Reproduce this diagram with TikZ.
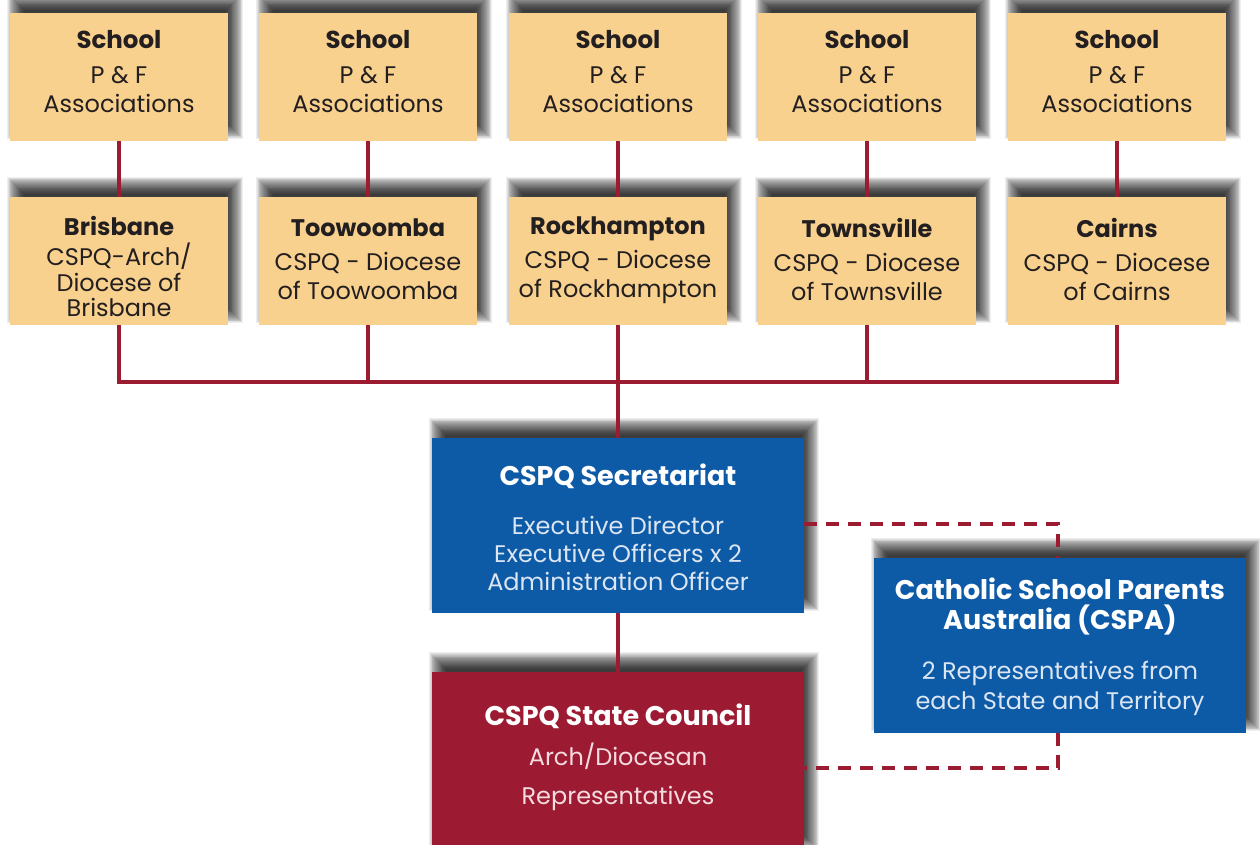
\documentclass[tikz,border=0pt]{standalone}
\usepackage{fontspec}
\setmainfont{Poppins}
\definecolor{tan}{HTML}{F9D18E}
\definecolor{cblue}{HTML}{0D5AA7}
\definecolor{cred}{HTML}{9D1B32}
\definecolor{lnred}{HTML}{9B1B30}
\definecolor{subblue}{HTML}{DCE6F2}
\definecolor{subred}{HTML}{F4DCE0}
\definecolor{ink}{HTML}{231F20}
\newcommand{\ttl}[2]{{\fontsize{#1}{#1}\selectfont\bfseries #2}}
\pgfdeclarelayer{back}
\pgfdeclarelayer{shadowlayer}
\pgfsetlayers{back,shadowlayer,main}
\begin{document}
\begin{tikzpicture}[x=1pt,y=-1pt,
  tanbox/.style={fill=tan,minimum width=218pt,minimum height=128pt,inner sep=0pt},
  bluebox/.style={fill=cblue,minimum width=372pt,minimum height=175pt,inner sep=0pt},
  redbox/.style={fill=cred,minimum width=372pt,minimum height=180pt,inner sep=0pt},
  tantext/.style={align=center,text=ink,inner sep=0pt,font=\fontsize{24}{29}\selectfont},
  wtext/.style={align=center,inner sep=0pt,font=\fontsize{24}{28}\selectfont},
  shadowpiece/.style={fill=black,fill opacity=0.065,draw=none},
  conn/.style={draw=lnred,line width=3.5pt},
  dconn/.style={draw=lnred,line width=3.5pt,dash pattern=on 13pt off 9pt}]
\begin{pgfonlayer}{back}
\fill[white] (0,0) rectangle (1260,845);
\end{pgfonlayer}
\useasboundingbox (0,0) rectangle (1260,845);
% row 1
\foreach \i/\x in {1/119,2/368,3/618,4/867,5/1117}{
  \node[tanbox] (s\i) at (\x,77) {};
  \node[tantext] (s\i t) at (\x,72) {\ttl{24.5}{School}\\[6pt]P \& F\\Associations};
}
% row 2
\foreach \i/\x in {1/119,2/368,3/618,4/867,5/1117}{
  \node[tanbox] (d\i) at (\x,261) {};
}
\node[tantext,font=\fontsize{24}{25.5}\selectfont] (d1t) at (119,266.5) {\ttl{24}{Brisbane}\\[4.5pt]CSPQ-Arch/\\Diocese of\\Brisbane};
\node[tantext] (d2t) at (368,259.5) {\ttl{24}{Toowoomba}\\[5pt]CSPQ - Diocese\\of Toowoomba};
\node[tantext] (d3t) at (618,260.5) {\ttl{24}{Rockhampton}\\[5pt]CSPQ - Diocese\\of Rockhampton};
\node[tantext] (d4t) at (867,259.5) {\ttl{24}{Townsville}\\[5pt]CSPQ - Diocese\\of Townsville};
\node[tantext] (d5t) at (1117,259.5) {\ttl{24}{Cairns}\\[5pt]CSPQ - Diocese\\of Cairns};
% lower boxes
\node[bluebox] (sec) at (618,525.5) {};
\node[wtext,text=subblue] (sect) at (618,527.5) {\textcolor{white}{\ttl{27}{CSPQ Secretariat}}\\[21pt]
  Executive Director\\Executive Officers x 2\\Administration Officer};
\node[redbox,anchor=north] (sc) at (618,672) {};
\node[wtext,text=subred,font=\fontsize{24}{39}\selectfont] (sct) at (618,757.5) {\textcolor{white}{\ttl{27}{CSPQ State Council}}\\[1pt]
  Arch/Diocesan\\Representatives};
\node[bluebox] (cspa) at (1060,645.5) {};
\node[wtext,text=subblue,font=\fontsize{24}{30}\selectfont] (cspat) at (1060,647) {\textcolor{white}{\ttl{27}{Catholic School Parents}}\\
  \textcolor{white}{\ttl{27}{Australia (CSPA)}}\\[20pt]
  2 Representatives from\\each State and Territory};
% shadows
\begin{pgfonlayer}{shadowlayer}
\foreach \n in {s1,s2,s3,s4,s5,d1,d2,d3,d4,d5,sec,sc,cspa}{
  \foreach \k in {0,...,19}{
    \pgfmathsetmacro{\r}{9-0.9*\k}
    \fill[shadowpiece] ([shift={(6-\r,-11+\r)}]\n.south west) rectangle ([shift={(6+\r,-11-\r)}]\n.north east);
  }
}
\end{pgfonlayer}
% connectors
\foreach \i in {1,...,5}{ \draw[conn] (s\i.south) -- (d\i.north); }
\coordinate (busL) at (119,382);
\coordinate (busR) at (1117,382);
\draw[conn] (d1.south) |- (busR) -- (d5.south);
\foreach \i in {2,3,4}{ \draw[conn] (d\i.south) -- (d\i.south |- busL); }
\draw[conn] (d3.south |- busL) -- (sec.north);
\draw[conn] (sec.south) -- (sc.north);
\coordinate (ta) at (1058,524);
\coordinate (tb) at (1058,768);
\draw[dconn] (sec.east |- ta) -- (ta) -- (ta |- cspa.north);
\draw[dconn] (tb |- cspa.south) -- (tb) -- (sc.east |- tb);
\end{tikzpicture}
\end{document}
